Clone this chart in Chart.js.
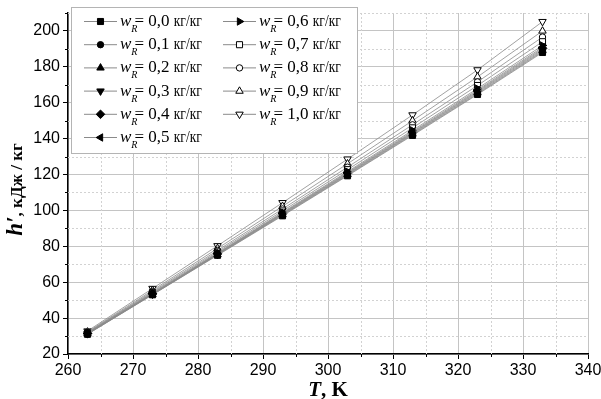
<!DOCTYPE html>
<html>
<head>
<meta charset="utf-8">
<script src="https://cdn.jsdelivr.net/npm/chart.js@4.4.0/dist/chart.umd.min.js"></script>
<style>
  html, body { margin: 0; padding: 0; background: #fff; }
</style>
</head>
<body>
<canvas id="chart" width="601" height="399"></canvas>
<script>
// temperatures, K
const temperature = [263, 273, 283, 293, 303, 313, 323, 333];

// mass fraction labels
const wLabels = ['0,0', '0,1', '0,2', '0,3', '0,4', '0,5', '0,6', '0,7', '0,8', '0,9', '1,0'];

// enthalpy h', kJ/kg, one array per w_R
const h00 = [31.0, 53.0, 75.0, 97.0, 119.3, 141.8, 164.6, 188.0];
const h01 = [31.1, 53.1, 75.2, 97.3, 119.6, 142.2, 165.0, 188.5];
const h02 = [31.2, 53.2, 75.4, 97.6, 120.0, 142.6, 165.5, 189.0];
const h03 = [31.3, 53.4, 75.6, 97.9, 120.3, 143.0, 166.0, 189.6];
const h04 = [31.4, 53.5, 75.8, 98.2, 120.7, 143.4, 166.5, 190.2];
const h05 = [31.5, 53.7, 76.0, 98.5, 121.1, 143.9, 167.1, 190.9];
const h06 = [31.6, 53.9, 76.3, 98.9, 121.6, 144.6, 167.9, 191.9];
const h07 = [31.8, 54.3, 76.9, 99.7, 122.7, 146.0, 169.6, 194.0];
const h08 = [32.0, 54.8, 77.7, 100.8, 124.1, 147.7, 171.6, 196.6];
const h09 = [32.3, 55.5, 78.8, 102.3, 126.0, 150.0, 174.4, 200.0];
const h10 = [32.8, 56.5, 80.3, 104.3, 128.6, 153.2, 178.3, 205.2];

const series = [h00, h01, h02, h03, h04, h05, h06, h07, h08, h09, h10];

// marker per series: [pointStyle, rotation, filled]
const markers = [
  ['rect', 0, true],
  ['circle', 0, true],
  ['triangle', 0, true],
  ['triangle', 180, true],
  ['rectRot', 0, true],
  ['triangle', 270, true],
  ['triangle', 90, true],
  ['rect', 0, false],
  ['circle', 0, false],
  ['triangle', 0, false],
  ['triangle', 180, false],
];

const LINE_GREY = '#8a8a8a';
const markerRadius = style => (style === 'circle' ? 3.2 : 4.3);

const datasets = series.map((vals, i) => ({
  label: 'w_R = ' + wLabels[i] + ' кг/кг',
  data: vals.map((v, j) => ({ x: temperature[j], y: v })),
  borderColor: LINE_GREY,
  borderWidth: 0.8,
  pointStyle: markers[i][0],
  pointRotation: markers[i][1],
  pointRadius: markerRadius(markers[i][0]),
  pointBorderWidth: 1,
  pointBorderColor: '#000',
  pointBackgroundColor: markers[i][2] ? '#000' : '#fff',
  tension: 0,
}));

// minor grid, minor ticks, axis titles and the boxed legend
const extrasPlugin = {
  id: 'extras',
  beforeDatasetsDraw(chart) {
    const { ctx, chartArea: a, scales: { x, y } } = chart;
    ctx.save();
    ctx.strokeStyle = '#d2d2d2';
    ctx.lineWidth = 1;
    ctx.setLineDash([2, 2]);
    for (let t = 265; t < 340; t += 10) {
      const px = Math.round(x.getPixelForValue(t)) + 0.5;
      ctx.beginPath(); ctx.moveTo(px, a.top); ctx.lineTo(px, a.bottom); ctx.stroke();
    }
    for (let v = 30; v <= 210; v += 20) {
      const py = Math.round(y.getPixelForValue(v)) + 0.5;
      ctx.beginPath(); ctx.moveTo(a.left, py); ctx.lineTo(a.right, py); ctx.stroke();
    }
    ctx.restore();
  },
  afterDraw(chart) {
    const { ctx, chartArea: a, scales: { x, y } } = chart;
    ctx.save();
    // minor ticks
    ctx.strokeStyle = '#000';
    ctx.lineWidth = 1;
    for (let t = 265; t < 340; t += 10) {
      const px = Math.round(x.getPixelForValue(t)) + 0.5;
      ctx.beginPath(); ctx.moveTo(px, a.bottom); ctx.lineTo(px, a.bottom + 3); ctx.stroke();
    }
    for (let v = 30; v <= 210; v += 20) {
      const py = Math.round(y.getPixelForValue(v)) + 0.5;
      ctx.beginPath(); ctx.moveTo(a.left, py); ctx.lineTo(a.left - 3, py); ctx.stroke();
    }

    // x title: T, K
    ctx.fillStyle = '#000';
    ctx.textBaseline = 'alphabetic';
    const xt1 = 'T', xt2 = ', K';
    ctx.font = 'italic bold 21px "Liberation Serif"';
    const w1 = ctx.measureText(xt1).width;
    ctx.font = 'bold 21px "Liberation Serif"';
    const w2 = ctx.measureText(xt2).width;
    const sx = (a.left + a.right) / 2 - (w1 + w2) / 2;
    ctx.font = 'italic bold 21px "Liberation Serif"';
    ctx.fillText(xt1, sx, 396);
    ctx.font = 'bold 21px "Liberation Serif"';
    ctx.fillText(xt2, sx + w1, 396);

    // y title: h′, кДж / кг
    ctx.save();
    ctx.translate(22, (a.top + a.bottom) / 2 + 6);
    ctx.rotate(-Math.PI / 2);
    const yt1 = 'h′', yt2 = ', кДж / кг';
    ctx.font = 'italic bold 23px "Liberation Serif"';
    const yw1 = ctx.measureText(yt1).width;
    ctx.font = 'bold 17px "Liberation Serif"';
    const yw2 = ctx.measureText(yt2).width;
    const ys = -(yw1 + yw2) / 2;
    ctx.font = 'italic bold 23px "Liberation Serif"';
    ctx.fillText(yt1, ys, 0);
    ctx.font = 'bold 17px "Liberation Serif"';
    ctx.fillText(yt2, ys + yw1, 0);
    ctx.restore();

    // legend box
    const box = { left: 71, top: 7, right: 357, bottom: 153 };
    ctx.fillStyle = '#fff';
    ctx.fillRect(box.left, box.top, box.right - box.left, box.bottom - box.top);
    ctx.strokeStyle = '#b4b4b4';
    ctx.lineWidth = 1;
    ctx.strokeRect(box.left + 0.5, box.top + 0.5, box.right - box.left, box.bottom - box.top);

    const rowY0 = 21, rowH = 23.2;
    const cols = [84, 223];
    chart.data.datasets.forEach((ds, i) => {
      const col = i < 6 ? 0 : 1;
      const row = i < 6 ? i : i - 6;
      const lx = cols[col];
      const ly = rowY0 + row * rowH;
      ctx.strokeStyle = LINE_GREY;
      ctx.lineWidth = 1;
      ctx.beginPath(); ctx.moveTo(lx, ly + 0.5); ctx.lineTo(lx + 33, ly + 0.5); ctx.stroke();
      ctx.fillStyle = ds.pointBackgroundColor;
      ctx.strokeStyle = '#000';
      ctx.lineWidth = 1;
      Chart.helpers.drawPoint(ctx, {
        pointStyle: ds.pointStyle, rotation: ds.pointRotation, radius: ds.pointRadius, borderWidth: 1,
      }, lx + 16.5, ly + 0.5);

      let tx = lx + 36;
      const base = ly + 5;
      ctx.fillStyle = '#000';
      ctx.font = 'italic 17px "Liberation Serif"';
      ctx.fillText('w', tx, base);
      tx += ctx.measureText('w').width;
      ctx.font = 'italic 10px "Liberation Serif"';
      ctx.fillText('R', tx, base + 6);
      tx += ctx.measureText('R').width - 3;
      ctx.font = '17px "Liberation Serif"';
      const num = '= ' + wLabels[i] + ' ';
      ctx.fillText(num, tx, base);
      tx += ctx.measureText(num).width;
      ctx.fillText('кг/кг', tx, base, 28);
    });
    ctx.restore();
  },
};

new Chart(document.getElementById('chart'), {
  type: 'line',
  data: { datasets },
  options: {
    responsive: false,
    animation: false,
    layout: { padding: { top: 13, right: 13, left: 0, bottom: 0 } },
    plugins: { legend: { display: false }, tooltip: { enabled: false } },
    scales: {
      x: {
        type: 'linear',
        min: 260,
        max: 340,
        border: { color: '#000', width: 1.5 },
        grid: { color: '#c4c4c4', lineWidth: 1, tickColor: '#000', tickLength: 5 },
        ticks: { stepSize: 10, padding: 2, color: '#000', font: { family: '"Liberation Sans"', size: 16 } },
        afterFit(scale) { scale.height = 45; scale.paddingLeft = 0; scale.paddingRight = 0; },
      },
      y: {
        min: 20,
        max: 210,
        border: { color: '#000', width: 1.5 },
        grid: { color: '#c4c4c4', lineWidth: 1, tickColor: '#000', tickLength: 5 },
        ticks: { stepSize: 20, includeBounds: false, padding: 3, color: '#000', font: { family: '"Liberation Sans"', size: 16 } },
        afterFit(scale) { scale.width = 68; scale.paddingTop = 0; },
      },
    },
  },
  plugins: [extrasPlugin],
});
</script>
</body>
</html>
